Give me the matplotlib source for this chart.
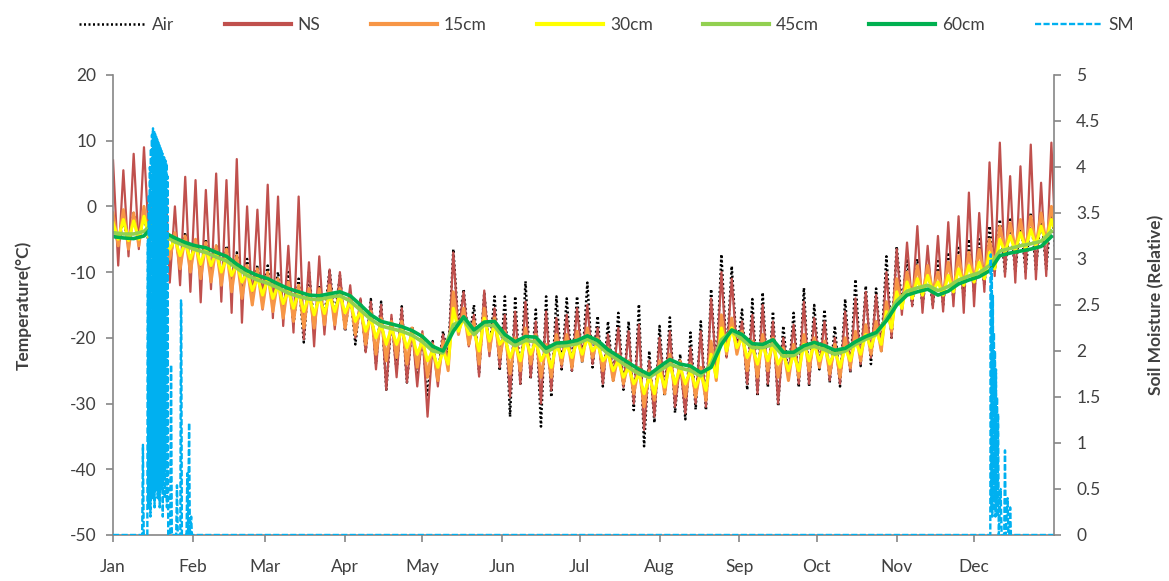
import numpy as np
import matplotlib
matplotlib.use("Agg")
import matplotlib.pyplot as plt
from matplotlib.lines import Line2D

plt.rcParams['font.family'] = ['Lato', 'DejaVu Sans']
plt.rcParams['axes.unicode_minus'] = False

# day of year, one sample every 4 days (highs at the day, lows 2 days later)
DAY = np.arange(0, 365, 4)

T60 = [-4.6, -4.8, -4.9, -4.5, -2.8, -4.0, -4.8, -5.5, -6.0, -6.3,
       -7.0, -7.6, -8.8, -9.8, -10.5, -11.0, -11.8, -12.5, -13.0, -13.5,
       -13.6, -13.3, -13.0, -13.6, -15.0, -16.5, -17.5, -17.9, -18.3, -18.9,
       -19.8, -21.3, -22.0, -19.0, -16.8, -18.8, -17.6, -17.5, -19.5, -20.6,
       -19.8, -19.9, -21.6, -20.8, -20.7, -20.4, -19.7, -20.4, -21.8, -22.8,
       -23.8, -24.8, -25.6, -24.4, -23.3, -24.0, -24.3, -25.3, -24.5, -21.0,
       -18.8, -19.5, -20.9, -21.0, -20.3, -22.2, -22.2, -21.2, -20.7, -21.2,
       -21.9, -21.6, -20.6, -19.8, -19.2, -17.4, -15.0, -13.5, -13.0, -12.6,
       -13.5, -12.9, -11.8, -11.2, -10.7, -9.8, -7.5, -7.1, -6.8, -6.5,
       -6.1, -4.6]

T45 = [-4.0, -4.2, -4.2, -3.8, -2.4, -4.5, -5.4, -6.0, -6.6, -7.0,
       -7.7, -8.3, -9.4, -10.5, -11.2, -11.7, -12.4, -13.2, -13.7, -14.1,
       -14.2, -13.8, -13.6, -14.4, -15.8, -17.2, -18.2, -18.6, -19.0, -19.6,
       -20.6, -22.0, -22.3, -18.0, -17.3, -19.5, -18.0, -18.2, -20.2, -21.2,
       -20.4, -20.6, -22.2, -21.3, -21.2, -20.9, -20.2, -21.0, -22.4, -23.4,
       -24.5, -25.5, -26.0, -25.0, -24.0, -24.6, -25.0, -25.8, -24.0, -20.3,
       -19.0, -20.2, -21.5, -21.5, -21.0, -22.8, -22.7, -21.7, -21.3, -21.8,
       -22.5, -22.0, -21.0, -20.2, -19.5, -17.0, -14.4, -12.9, -12.4, -12.0,
       -12.8, -12.2, -11.2, -10.6, -10.1, -9.0, -6.8, -6.4, -6.0, -5.7,
       -5.3, -3.8]

T30_HI = [-2.5, -2.0, -2.2, -1.5, -1.0, -4.2, -5.0, -5.5, -6.0, -6.4,
          -7.0, -7.8, -8.8, -10.0, -10.8, -11.0, -12.0, -12.8, -13.0, -13.6,
          -13.8, -13.5, -13.4, -14.5, -16.0, -17.0, -18.0, -18.5, -18.8, -19.5,
          -20.5, -22.0, -22.0, -15.5, -17.0, -19.0, -17.0, -18.0, -20.0, -21.0,
          -20.0, -20.5, -22.0, -21.0, -21.0, -20.5, -20.0, -21.0, -22.5, -23.5,
          -24.5, -25.5, -26.0, -25.0, -24.0, -24.5, -25.0, -25.5, -22.5, -18.5,
          -18.5, -20.0, -21.5, -21.0, -21.0, -22.5, -22.5, -21.0, -21.0, -21.5,
          -22.0, -21.5, -20.5, -19.5, -19.0, -16.0, -13.0, -11.5, -11.0, -10.5,
          -11.5, -10.5, -9.5, -9.0, -8.5, -7.0, -5.0, -4.5, -4.0, -3.5,
          -3.0, -2.0]
T30_LO = [-5.0, -5.2, -5.0, -4.8, -3.5, -6.5, -7.5, -8.0, -8.8, -9.0,
          -10.0, -10.5, -11.5, -12.8, -13.5, -14.0, -14.8, -15.5, -16.0, -16.5,
          -16.3, -16.0, -16.2, -17.5, -19.0, -20.0, -21.0, -21.0, -21.5, -22.5,
          -23.5, -24.5, -24.0, -19.0, -19.5, -22.0, -20.5, -21.0, -23.0, -23.5,
          -22.5, -23.5, -24.5, -23.0, -23.0, -22.5, -22.0, -23.5, -25.0, -26.0,
          -27.0, -28.5, -28.5, -27.5, -27.0, -27.0, -27.5, -28.0, -26.0, -22.0,
          -21.5, -23.0, -24.0, -23.5, -24.0, -25.0, -25.0, -23.5, -23.5, -24.0,
          -24.5, -23.5, -22.5, -21.5, -21.0, -18.5, -15.5, -14.0, -13.5, -13.0,
          -13.5, -13.0, -12.0, -11.5, -11.0, -9.5, -7.0, -6.8, -6.5, -6.0,
          -5.5, -4.5]

T15_HI = [-1.0, -0.5, -1.0, 0.0, 0.5, -3.0, -4.0, -4.5, -5.0, -5.5,
          -6.0, -6.5, -7.5, -9.0, -9.5, -10.0, -11.0, -11.5, -12.0, -12.5,
          -12.5, -12.0, -12.5, -13.5, -15.0, -16.0, -17.0, -17.5, -17.5, -18.5,
          -19.5, -21.0, -20.5, -13.0, -15.5, -17.5, -15.5, -17.0, -19.0, -20.0,
          -18.5, -19.5, -21.0, -19.5, -19.5, -19.0, -18.5, -20.0, -21.5, -22.5,
          -23.5, -24.5, -25.0, -23.5, -22.5, -23.5, -24.0, -24.5, -20.5, -16.5,
          -17.0, -19.0, -20.5, -19.5, -20.0, -21.5, -21.0, -19.5, -20.0, -20.5,
          -21.0, -20.0, -19.0, -18.0, -17.5, -14.5, -11.0, -10.0, -9.0, -9.0,
          -10.0, -8.5, -7.5, -7.0, -6.5, -5.0, -3.0, -2.5, -2.0, -1.5,
          -1.0, 0.0]
T15_LO = [-6.0, -6.5, -6.0, -5.5, -4.0, -8.0, -9.5, -10.0, -11.0, -11.5,
          -12.0, -13.0, -14.0, -15.0, -15.5, -16.0, -17.0, -17.5, -18.5, -18.5,
          -18.0, -18.0, -18.5, -19.5, -21.0, -22.5, -23.5, -23.0, -24.0, -24.5,
          -26.0, -26.5, -25.0, -19.5, -21.0, -24.0, -22.0, -23.0, -25.5, -25.0,
          -24.0, -26.0, -26.0, -24.0, -24.5, -23.5, -23.0, -25.0, -26.5, -27.0,
          -28.5, -30.5, -29.5, -28.5, -28.5, -29.0, -29.0, -29.5, -26.5, -22.5,
          -22.5, -25.0, -26.0, -25.0, -26.0, -26.5, -26.0, -25.0, -24.5, -25.5,
          -26.0, -24.5, -23.5, -22.5, -22.0, -19.0, -15.5, -14.0, -13.5, -13.0,
          -13.5, -13.0, -12.0, -11.5, -11.0, -9.5, -7.0, -6.5, -6.5, -6.0,
          -5.5, -4.5]

NS_HI = [7.0, 5.5, 8.0, 9.0, 3.0, 6.5, 0.0, 4.5, 4.0, 2.5,
         5.0, 4.0, 7.2, 0.0, -0.5, 3.3, 1.5, -6.0, 1.5, -8.5,
         -7.6, -9.6, -10.0, -12.0, -14.0, -14.5, -15.0, -16.5, -15.5, -18.5,
         -19.0, -20.7, -19.5, -7.0, -13.0, -16.5, -12.8, -15.5, -16.5, -16.0,
         -14.5, -17.5, -16.0, -17.0, -16.5, -15.5, -15.0, -18.5, -19.5, -18.5,
         -19.0, -18.0, -23.5, -20.0, -19.0, -24.0, -21.5, -19.0, -14.0, -10.0,
         -11.0, -17.5, -16.5, -15.0, -17.5, -20.0, -18.0, -14.5, -17.0, -17.5,
         -20.0, -16.0, -14.0, -13.0, -13.5, -10.0, -6.5, -5.5, -3.0, -6.0,
         -4.5, -2.4, -1.5, 2.1, -1.0, 6.7, 9.7, 4.6, 6.1, 9.4,
         3.6, 9.7]
NS_LO = [-9.0, -7.6, -6.5, -5.5, -8.0, -11.6, -12.0, -13.0, -14.6, -12.6,
         -14.5, -16.2, -17.7, -15.0, -15.7, -17.0, -18.2, -19.2, -20.2, -21.3,
         -19.5, -18.7, -18.7, -20.0, -22.2, -24.8, -27.9, -26.0, -26.8, -27.4,
         -32.0, -27.4, -24.0, -19.2, -21.3, -25.9, -22.8, -24.5, -29.0, -27.0,
         -26.0, -30.0, -28.0, -24.5, -25.0, -23.5, -24.0, -27.0, -26.0, -27.5,
         -30.0, -34.0, -32.0, -28.5, -30.5, -31.5, -30.0, -30.5, -25.0, -23.0,
         -22.0, -27.0, -28.5, -27.0, -30.0, -26.0, -27.0, -27.0, -24.5, -26.5,
         -27.0, -25.0, -24.0, -23.0, -22.0, -20.0, -16.5, -15.2, -16.2, -15.5,
         -16.0, -15.2, -16.2, -15.2, -13.0, -10.6, -10.7, -11.6, -11.0, -11.1,
         -10.6, -9.6]

AIR_HI = [-2.0, -2.0, -1.0, -1.0, -2.0, -3.0, -4.0, -4.0, -5.0, -5.0,
          -6.0, -6.0, -7.0, -8.0, -9.0, -9.0, -10.0, -10.0, -11.0, -10.0,
          -12.0, -9.6, -10.5, -13.0, -14.0, -14.1, -14.5, -17.0, -15.2, -18.2,
          -19.5, -20.5, -19.0, -6.5, -12.6, -15.0, -13.1, -13.7, -13.7, -13.7,
          -11.4, -15.7, -13.7, -13.7, -14.0, -13.7, -11.6, -16.7, -17.5, -16.2,
          -17.5, -14.9, -22.0, -18.2, -16.9, -22.5, -19.2, -17.5, -12.6, -7.3,
          -9.1, -15.7, -14.1, -13.1, -16.0, -18.2, -16.2, -12.4, -15.0, -15.7,
          -18.2, -14.1, -11.1, -12.1, -12.5, -7.6, -6.1, -8.0, -8.0, -9.0,
          -8.0, -7.0, -6.0, -5.0, -5.0, -3.0, -2.0, -2.0, -2.0, -1.0,
          -1.0, 0.0]
AIR_LO = [-6.0, -6.0, -5.5, -6.0, -6.0, -8.0, -9.0, -9.0, -10.0, -10.0,
          -11.0, -12.0, -13.0, -14.0, -14.0, -15.0, -16.0, -18.0, -20.7, -18.0,
          -17.0, -17.0, -19.0, -21.0, -22.0, -24.0, -27.9, -25.0, -26.8, -26.0,
          -29.0, -26.0, -23.0, -18.5, -21.0, -25.3, -22.0, -25.0, -32.0, -27.0,
          -26.3, -33.5, -29.0, -24.8, -25.0, -23.8, -24.5, -27.4, -26.5, -27.9,
          -31.0, -36.5, -32.9, -28.9, -31.4, -32.4, -30.9, -31.0, -25.3, -23.0,
          -22.0, -27.9, -28.9, -27.5, -30.4, -26.3, -27.5, -27.4, -24.8, -26.8,
          -27.4, -25.3, -24.3, -24.0, -22.0, -20.0, -15.0, -15.0, -15.0, -15.0,
          -15.0, -14.0, -14.0, -13.0, -12.0, -10.0, -10.0, -10.0, -10.0, -9.6,
          -9.6, -9.0]

# soil moisture (relative), zero outside the two wet spells
SM_DAY = [0, 11.3, 11.6, 11.9,
          13.3, 13.5, 13.7, 13.9, 14.1, 14.3, 14.5, 14.7, 14.9, 15.1,
          15.3, 15.5, 15.7, 15.9, 16.1, 16.3, 16.5, 16.7, 16.9, 17.1,
          17.3, 17.5, 17.7, 17.9, 18.1, 18.3, 18.5, 18.7, 18.9, 19.1,
          19.3, 19.5, 19.7, 19.9, 20.1, 20.3, 20.5, 20.7, 20.9, 21.1, 21.4,
          22.2, 22.5, 22.8, 24.5, 24.8, 25.1, 26.1, 26.35, 26.45, 26.7,
          28.5, 28.8, 29.1, 29.5, 29.8, 30.3, 30.6,
          340.3, 340.5, 340.7, 340.9, 341.1, 341.3, 341.5, 341.7, 341.9,
          342.1, 342.3, 342.5, 342.7, 342.9, 343.1, 343.3, 343.6,
          344.3, 344.7, 345.7, 346.0, 346.3, 347.0, 347.3, 347.7, 348.0,
          348.3, 365]
SM_VAL = [0, 0, 0.98, 0,
          0, 3.2, 0.3, 3.7, 0.5, 4.0, 0.2, 4.2, 0.6, 4.35,
          0.4, 4.42, 0.8, 4.4, 0.3, 4.36, 0.5, 4.33, 0.9, 4.3,
          0.4, 4.27, 0.6, 4.24, 0.3, 4.21, 0.7, 4.18, 0.5, 4.15,
          0.2, 4.12, 0.6, 4.1, 0.4, 4.07, 0.8, 4.04, 0.3, 3.9, 0,
          0, 1.85, 0, 0, 0.54, 0, 0, 2.55, 2.5, 0,
          0, 0.67, 0, 1.22, 0, 0.2, 0,
          0, 3.05, 0.3, 2.9, 0.2, 2.6, 0.4, 2.2, 0.3,
          2.0, 0.2, 1.8, 0.3, 1.5, 0.2, 1.32, 0,
          0.5, 0, 0, 0.92, 0, 0.4, 0, 0, 0.3,
          0, 0]

MONTHS = ['Jan', 'Feb', 'Mar', 'Apr', 'May', 'Jun',
          'Jul', 'Aug', 'Sep', 'Oct', 'Nov', 'Dec']
MONTH_START = [0, 31, 59, 90, 120, 151, 181, 212, 243, 273, 304, 334]


def zigzag(hi, lo):
    # daily highs and lows joined into one trace
    x = np.empty(2 * len(DAY))
    y = np.empty(2 * len(DAY))
    x[0::2] = DAY
    x[1::2] = DAY + 2
    y[0::2] = hi
    y[1::2] = lo
    return x, y


GREY = '#868686'
TXT = '#404040'
C_NS, C_15, C_30, C_45, C_60, C_SM = '#C0504D', '#F79646', '#FFFF00', '#92D050', '#00B050', '#00B0F0'
AIR_LS = (0, (0.8, 1.0))
SM_LS = (0, (2.6, 1.0))

fig = plt.figure(figsize=(11.69, 5.81), dpi=100)
ax = fig.add_axes([0.0967, 0.0792, 0.8049, 0.7918])

ax.plot(*zigzag(AIR_HI, AIR_LO), color='black', ls=AIR_LS, lw=1.8)
ax.plot(*zigzag(NS_HI, NS_LO), color=C_NS, lw=1.6)
ax.plot(*zigzag(T15_HI, T15_LO), color=C_15, lw=2.2)
ax.plot(*zigzag(T30_HI, T30_LO), color=C_30, lw=2.2)
ax.plot(DAY, T45, color=C_45, lw=2.6)
ax.plot(DAY, T60, color=C_60, lw=2.6)

ax.set_xlim(0, 365)
ax.set_ylim(-50, 20)
ax.set_yticks(range(-50, 21, 10))
ax.set_xticks(MONTH_START)
ax.set_xticklabels(MONTHS)

ax2 = ax.twinx()
ax2.plot(SM_DAY, SM_VAL, color=C_SM, ls=SM_LS, lw=1.7)
ax2.set_ylim(0, 5)
sm_ticks = np.arange(0, 5.01, 0.5)
ax2.set_yticks(sm_ticks)
ax2.set_yticklabels(['{:g}'.format(t) for t in sm_ticks])

for a in (ax, ax2):
    for s in a.spines.values():
        s.set_color(GREY)
        s.set_linewidth(1.2)
    a.spines['top'].set_visible(False)
ax.spines['right'].set_visible(False)
ax2.spines['left'].set_visible(False)
ax2.spines['bottom'].set_visible(False)

ax.tick_params(axis='y', direction='out', length=5, width=1.2, color=GREY,
               labelcolor=TXT, labelsize=12.5, pad=7)
ax.tick_params(axis='x', direction='out', length=5, width=1.2, color=GREY,
               labelcolor=TXT, labelsize=12.5, pad=12)
ax2.tick_params(axis='y', direction='out', length=5, width=1.2, color=GREY,
                labelcolor=TXT, labelsize=12.5, pad=11)

ax.set_ylabel('Temperature(°C)', fontsize=12.5, fontweight='bold', color=TXT)
ax.yaxis.set_label_coords(-0.086, 0.5)
ax2.set_ylabel('Soil Moisture (Relative)', fontsize=12.5, fontweight='bold', color=TXT)
ax2.yaxis.set_label_coords(1.1, 0.5)

handles = [
    Line2D([], [], color='black', ls=AIR_LS, lw=1.8),
    Line2D([], [], color=C_NS, lw=3),
    Line2D([], [], color=C_15, lw=3),
    Line2D([], [], color=C_30, lw=3),
    Line2D([], [], color=C_45, lw=3),
    Line2D([], [], color=C_60, lw=3),
    Line2D([], [], color=C_SM, ls=SM_LS, lw=1.7),
]
labels = ['Air', 'NS', '15cm', '30cm', '45cm', '60cm', 'SM']
leg = fig.legend(handles, labels, loc='center', bbox_to_anchor=(0.519, 0.957),
                 ncol=7, frameon=False, fontsize=12.5, handlelength=3.8,
                 handletextpad=0.4, columnspacing=2.9)
for t in leg.get_texts():
    t.set_color(TXT)

fig.savefig('out.png', dpi=100)
